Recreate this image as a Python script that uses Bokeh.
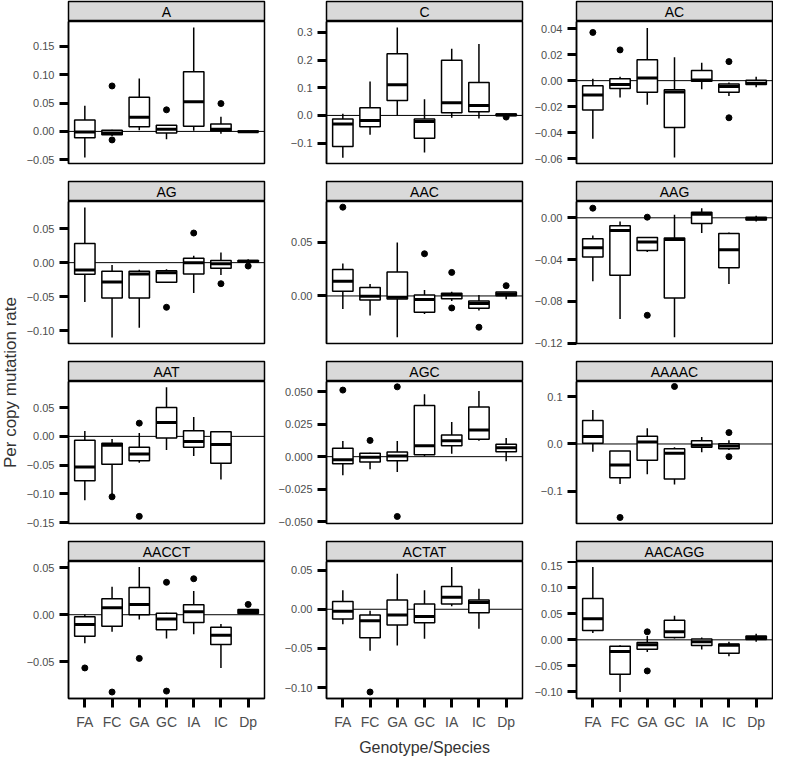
from bokeh.plotting import figure
from bokeh.layouts import gridplot, row
from bokeh.models import FixedTicker, CustomJSTickFormatter, Span, ColumnDataSource
from bokeh.core.properties import value
from bokeh.embed import file_html
from bokeh.resources import INLINE

# ---------------- data ----------------
CATEGORIES = ["FA", "FC", "GA", "GC", "IA", "IC", "Dp"]
PANELS = ["A", "C", "AC", "AG", "AAC", "AAG", "AAT", "AGC", "AAAAC", "AACCT", "ACTAT", "AACAGG"]

WHISKER_LOW = [
    [-0.046, -0.008, 0.002, -0.014, 0.001, -0.004, -0.002],
    [-0.153, -0.070, 0.000, -0.134, -0.008, -0.011, -0.002],
    [-0.0446, -0.013, -0.0185, -0.059, -0.0067, -0.0118, -0.005],
    [-0.058, -0.110, -0.096, -0.029, -0.0446, -0.018, 0.001],
    [-0.0121, -0.0183, -0.0385, -0.0168, -0.0047, -0.0137, -0.003],
    [-0.0608, -0.0968, -0.0328, -0.1143, -0.0146, -0.0633, -0.0035],
    [-0.111, -0.101, -0.046, -0.0237, -0.034, -0.075, None],
    [-0.0143, -0.0097, -0.0118, 0.0003, 0.0023, 0.0123, -0.0036],
    [-0.0163, -0.0851, -0.0645, -0.0858, -0.0177, -0.0128, None],
    [-0.0305, -0.0182, -0.0051, -0.0253, -0.0209, -0.0568, 0.0014],
    [-0.0193, -0.0529, -0.0463, -0.0377, 0.0037, -0.025, None],
    [0.0129, -0.1004, -0.0234, 0.0025, -0.0185, -0.0314, -0.0037],
]
Q1 = [
    [-0.011, -0.006, 0.008, -0.003, 0.009, 0.001, -0.001],
    [-0.112, -0.041, 0.054, -0.082, 0.010, 0.013, -0.001],
    [-0.0226, -0.006, -0.009, -0.036, -0.0005, -0.009, -0.003],
    [-0.017, -0.052, -0.052, -0.029, -0.0167, -0.0083, 0.001],
    [0.0043, -0.0037, -0.0028, -0.0152, -0.0025, -0.0115, 0.0003],
    [-0.0376, -0.055, -0.0312, -0.0767, -0.0054, -0.0477, -0.0022],
    [-0.0769, -0.0486, -0.0422, -0.0029, -0.019, -0.0468, None],
    [-0.0054, -0.0041, -0.0031, 0.0015, 0.0084, 0.0133, 0.0038],
    [0.0014, -0.0716, -0.0348, -0.0745, -0.0071, -0.0099, None],
    [-0.0229, -0.0123, 0.0, -0.0161, -0.0082, -0.0318, 0.0014],
    [-0.0123, -0.0365, -0.0201, -0.0172, 0.0066, -0.0045, None],
    [0.0179, -0.0659, -0.0179, 0.0043, -0.0111, -0.0259, 0.0006],
]
MEDIAN = [
    [-0.001, -0.003, 0.025, 0.004, 0.052, 0.004, -0.0005],
    [-0.031, -0.018, 0.111, -0.022, 0.046, 0.036, 0.002],
    [-0.011, -0.003, 0.002, -0.0087, 0.0005, -0.0044, -0.002],
    [-0.0108, -0.0284, -0.0167, -0.015, 0.0, -0.0015, 0.002],
    [0.0137, -0.0003, -0.0012, -0.0034, 0.0009, -0.0071, 0.0019],
    [-0.0286, -0.0121, -0.0232, -0.0207, 0.0035, -0.0306, -0.001],
    [-0.0532, -0.0156, -0.0306, 0.0243, -0.0087, -0.0139, None],
    [-0.0023, -0.0005, 0.0005, 0.0084, 0.0123, 0.0205, 0.0069],
    [0.0156, -0.0447, 0.0043, -0.0199, -0.0028, -0.0043, None],
    [-0.0103, 0.0075, 0.011, -0.0045, 0.0031, -0.0219, 0.0034],
    [-0.0025, -0.0148, -0.0074, -0.0094, 0.0152, 0.0086, None],
    [0.0406, -0.0222, -0.0092, 0.0154, -0.0037, -0.0105, 0.0043],
]
Q3 = [
    [0.020, 0.002, 0.060, 0.011, 0.105, 0.013, 0.0005],
    [-0.013, 0.028, 0.223, -0.013, 0.199, 0.119, 0.005],
    [-0.004, 0.0015, 0.016, -0.007, 0.0077, -0.0026, 0.0003],
    [0.028, -0.0127, -0.0127, -0.0118, 0.0064, 0.003, 0.003],
    [0.0248, 0.0078, 0.0224, 0.0009, 0.0025, -0.0047, 0.0037],
    [-0.020, -0.0076, -0.0188, -0.0194, 0.0054, -0.015, 0.0006],
    [-0.0069, -0.0121, -0.019, 0.0503, 0.0098, 0.0081, None],
    [0.0064, 0.0026, 0.0036, 0.0394, 0.0166, 0.0381, 0.0095],
    [0.0496, -0.0149, 0.0163, -0.0099, 0.0071, 0.0007, None],
    [-0.0021, 0.0171, 0.0291, 0.0017, 0.0106, -0.0134, 0.0055],
    [0.0098, -0.0074, 0.0119, 0.0066, 0.0291, 0.0119, None],
    [0.0794, -0.0123, -0.0049, 0.0376, 0.0018, -0.008, 0.0074],
]
WHISKER_HIGH = [
    [0.045, 0.003, 0.093, 0.011, 0.183, 0.026, 0.001],
    [0.006, 0.122, 0.317, 0.058, 0.241, 0.258, 0.006],
    [0.0015, 0.003, 0.0405, 0.018, 0.0138, -0.0015, 0.003],
    [0.081, -0.0034, -0.0103, -0.0098, 0.0103, 0.015, 0.005],
    [0.0304, 0.0112, 0.050, 0.0056, 0.004, 0.0009, 0.0037],
    [-0.0169, -0.0035, -0.0188, 0.0029, 0.0092, -0.014, 0.002],
    [0.0092, -0.0046, 0.0058, 0.0855, 0.0335, 0.0081, None],
    [0.012, 0.003, 0.012, 0.048, 0.0266, 0.0504, 0.0143],
    [0.0723, -0.0149, 0.0333, -0.007, 0.0149, 0.0078, None],
    [0.0003, 0.0298, 0.051, 0.002, 0.0253, -0.0099, 0.0055],
    [0.0242, -0.002, 0.0455, 0.0242, 0.0541, 0.0262, None],
    [0.1398, -0.0105, 0.0074, 0.0462, 0.0043, -0.0037, 0.0117],
]
OUTLIERS = [
    {"FC": [0.080, -0.015], "GC": [0.038], "IC": [0.049]},
    {"Dp": [-0.006]},
    {"FA": [0.037], "FC": [0.0236], "IC": [0.0146, -0.0285]},
    {"GC": [-0.0657], "IA": [0.0436], "IC": [-0.031], "Dp": [-0.005]},
    {"FA": [0.0829], "GC": [0.0394], "IA": [0.022, -0.0112], "IC": [-0.0292], "Dp": [0.0096]},
    {"FA": [0.0092], "GA": [0.0006, -0.0933]},
    {"FC": [-0.105], "GA": [0.023, -0.139]},
    {"FA": [0.0512], "FC": [0.0125], "GA": [0.0537, -0.046]},
    {"FC": [-0.156], "GC": [0.122], "IC": [0.0241, -0.027]},
    {"FA": [-0.0568], "FC": [-0.0825], "GA": [-0.0466], "GC": [0.0346, -0.0815], "IA": [0.0384], "Dp": [0.011]},
    {"FC": [-0.1057]},
    {"GA": [0.0154, -0.0597]},
]
Y_TICKS = [
    [-0.05, 0.0, 0.05, 0.10, 0.15],
    [-0.1, 0.0, 0.1, 0.2, 0.3],
    [-0.06, -0.04, -0.02, 0.0, 0.02, 0.04],
    [-0.10, -0.05, 0.0, 0.05],
    [0.0, 0.05],
    [-0.12, -0.08, -0.04, 0.0],
    [-0.15, -0.10, -0.05, 0.0, 0.05],
    [-0.050, -0.025, 0.0, 0.025, 0.050],
    [-0.1, 0.0, 0.1],
    [-0.05, 0.0, 0.05],
    [-0.10, -0.05, 0.0, 0.05],
    [-0.10, -0.05, 0.0, 0.05, 0.10, 0.15],
]
Y_DECIMALS = [2, 1, 2, 2, 2, 2, 2, 3, 1, 2, 2, 2]
Y_LIMITS = [
    (-0.0565, 0.1935), (-0.1735, 0.339), (-0.0636, 0.0454),
    (-0.119, 0.090), (-0.0444, 0.0882), (-0.1203, 0.0156),
    (-0.1514, 0.0954), (-0.0514, 0.0578), (-0.1688, 0.1326),
    (-0.0894, 0.0568), (-0.114, 0.061), (-0.1127, 0.1505),
]
X_TITLE = "Genotype/Species"
Y_TITLE = "Per copy mutation rate"

# ---------------- layout / style ----------------
FONT = "Liberation Sans"
NCOL = 3
COL_LEFT = [48, 58, 50]
COL_RIGHT = [4, 4, 1]
FRAME_W = 196
FRAME_H = 142
STRIP_H = 21
GAP = 17
BOTTOM = 55
BOX_W = 0.75
YFIG_W = 20

nrow = len(PANELS) // NCOL
xpos = list(range(1, len(CATEGORIES) + 1))

def make_strip(label, c):
    s = figure(width=COL_LEFT[c] + FRAME_W + COL_RIGHT[c], height=STRIP_H,
               x_range=(0, 1), y_range=(0, 1), x_axis_location=None, y_axis_location=None,
               toolbar_location=None, output_backend="svg",
               min_border_left=COL_LEFT[c], min_border_right=COL_RIGHT[c],
               min_border_top=1, min_border_bottom=0)
    s.background_fill_color = "#D9D9D9"
    s.border_fill_color = "white"
    s.outline_line_color = "black"
    s.outline_line_width = 1.5
    s.grid.grid_line_color = None
    s.text(x=[0.5], y=[0.5], text=[label], text_align="center", text_baseline="middle",
           text_font=value(FONT), text_font_size="14px", text_color="black")
    return s

def make_panel(i, r, c):
    last = (r == nrow - 1)
    p = figure(width=COL_LEFT[c] + FRAME_W + COL_RIGHT[c],
               height=FRAME_H + (BOTTOM if last else GAP),
               x_range=(0.4, len(CATEGORIES) + 0.6), y_range=Y_LIMITS[i],
               x_axis_location="below" if last else None,
               toolbar_location=None, output_backend="svg",
               min_border_left=COL_LEFT[c], min_border_right=COL_RIGHT[c],
               min_border_top=0, min_border_bottom=(BOTTOM if last else GAP))
    p.background_fill_color = "white"
    p.border_fill_color = "white"
    p.outline_line_color = "black"
    p.outline_line_width = 1.5
    p.grid.grid_line_color = None

    ya = p.yaxis[0]
    ya.ticker = FixedTicker(ticks=Y_TICKS[i])
    ya.formatter = CustomJSTickFormatter(args=dict(d=Y_DECIMALS[i]),
        code="return (tick < 0 ? '\u2212' : '') + Math.abs(tick).toFixed(d);")
    ya.major_tick_out = 9
    ya.major_tick_in = 0
    ya.major_tick_line_width = 3
    ya.major_tick_line_color = "black"
    ya.minor_tick_line_color = None
    ya.axis_line_color = "black"
    ya.axis_line_width = 1.5
    ya.major_label_text_font = FONT
    ya.major_label_text_font_size = "11px"
    ya.major_label_text_color = "#4D4D4D"
    ya.major_label_standoff = 5

    if last:
        xa = p.xaxis[0]
        xa.ticker = FixedTicker(ticks=xpos)
        xa.major_label_overrides = {k: v for k, v in zip(xpos, CATEGORIES)}
        xa.major_tick_out = 9
        xa.major_tick_in = 0
        xa.major_tick_line_width = 3
        xa.major_tick_line_color = "black"
        xa.minor_tick_line_color = None
        xa.axis_line_color = "black"
        xa.axis_line_width = 1.5
        xa.major_label_text_font = FONT
        xa.major_label_text_font_size = "14px"
        xa.major_label_text_color = "#4D4D4D"
        xa.major_label_standoff = 6
        if c == 1:
            xa.axis_label = X_TITLE
            xa.axis_label_text_font = FONT
            xa.axis_label_text_font_size = "16px"
            xa.axis_label_text_font_style = "normal"
            xa.axis_label_text_color = "#333333"
            xa.axis_label_standoff = 6

    p.add_layout(Span(location=0, dimension="width", line_color="black",
                      line_width=1, level="underlay"))

    xs, lo, q1, md, q3, hi = [], [], [], [], [], []
    for k, x in enumerate(xpos):
        if MEDIAN[i][k] is None:
            continue
        xs.append(x); lo.append(WHISKER_LOW[i][k]); q1.append(Q1[i][k])
        md.append(MEDIAN[i][k]); q3.append(Q3[i][k]); hi.append(WHISKER_HIGH[i][k])
    src = ColumnDataSource(dict(x=xs, lo=lo, q1=q1, med=md, q3=q3, hi=hi,
                                xl=[x - BOX_W / 2 for x in xs], xr=[x + BOX_W / 2 for x in xs]))
    p.segment(x0="x", y0="lo", x1="x", y1="q1", source=src, line_color="black", line_width=1.5)
    p.segment(x0="x", y0="q3", x1="x", y1="hi", source=src, line_color="black", line_width=1.5)
    p.vbar(x="x", width=BOX_W, bottom="q1", top="q3", source=src,
           fill_color="white", line_color="black", line_width=1.5)
    p.segment(x0="xl", y0="med", x1="xr", y1="med", source=src, line_color="black", line_width=3)

    ox, oy = [], []
    for cat, vals in OUTLIERS[i].items():
        for v in vals:
            ox.append(xpos[CATEGORIES.index(cat)]); oy.append(v)
    if ox:
        p.scatter(x=ox, y=oy, size=6, color="black")
    return p

rows = []
for r in range(nrow):
    strips, panels = [], []
    for c in range(NCOL):
        i = r * NCOL + c
        strips.append(make_strip(PANELS[i], c))
        panels.append(make_panel(i, r, c))
    rows.append(strips)
    rows.append(panels)

grid = gridplot(rows, toolbar_location=None)

total_h = (nrow - 1) * (STRIP_H + FRAME_H + GAP) + (STRIP_H + FRAME_H + BOTTOM)
yfig = figure(width=YFIG_W, height=total_h, x_range=(0, 1), y_range=(0, 1),
              x_axis_location=None, y_axis_location=None, toolbar_location=None,
              output_backend="svg", min_border_left=0, min_border_right=0,
              min_border_top=0, min_border_bottom=0)
yfig.outline_line_color = None
yfig.grid.grid_line_color = None
yfig.text(x=[0.5], y=[0.496], text=[Y_TITLE], angle=1.5707963, text_align="center",
          text_baseline="middle", text_font=value(FONT), text_font_size="17px",
          text_color="#333333")

layout = row(yfig, grid)
open("out.html", "w").write(file_html(layout, INLINE))
